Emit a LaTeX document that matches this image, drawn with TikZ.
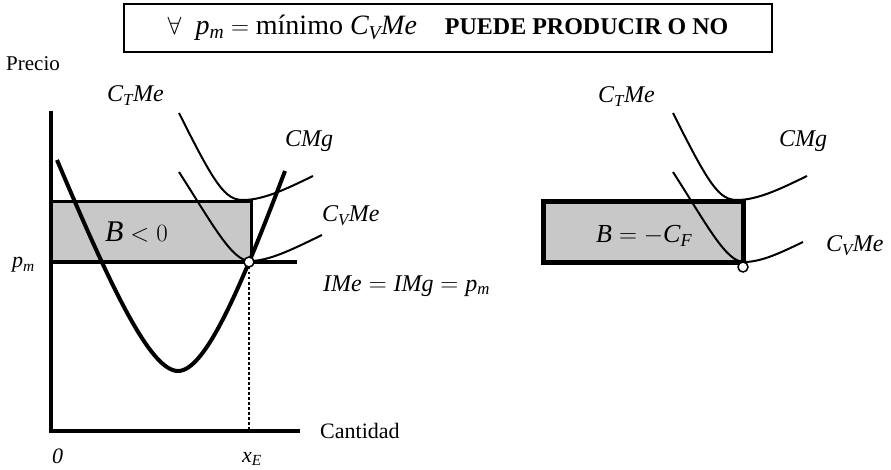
\documentclass[tikz,border=0pt]{standalone}
\usepackage{amsmath}
\usepackage{fontspec}
\setmainfont{Liberation Serif}
\usetikzlibrary{positioning,calc}
\definecolor{BoxGray}{RGB}{200,200,200}
\newcommand{\mi}[1]{\mathit{#1}}

\begin{document}
\begin{tikzpicture}[
    x=1pt, y=-1pt,
    every node/.style={inner sep=0pt, font=\fontsize{24}{28}\selectfont},
    axis/.style={line width=4pt, line join=miter},
    thincurve/.style={line width=2pt},
    thickcurve/.style={line width=4pt},
    eqpoint/.style={circle, draw, line width=1.5pt, fill=white, minimum size=10pt, inner sep=0pt},
    axislabel/.style={anchor=base west, font=\fontsize{21}{25}\selectfont}
  ]
  \useasboundingbox (0,0) rectangle (891,470);

  % title box
  \node[draw, line width=2pt, minimum width=648pt, minimum height=48pt] (title) at (448,28)
    {\fontsize{28}{32}\selectfont $\forall\enspace \mi{p}_{\mi{m}} = \text{mínimo}\ \mi{C}_{\mi{V}}\mi{Me}$\quad{\fontsize{24}{28}\selectfont\bfseries PUEDE PRODUCIR O NO}};

  % left panel: loss area and axes
  \fill[BoxGray] (51,202) rectangle (251,262);
  \draw[line width=3pt] (51,202) -- (251,202) -- (251,262);
  \draw[line width=4pt] (51,262) -- (297,262);
  \draw[axis] (51,111) -- (51,431) -- (300,431);
  \coordinate (eqL) at (249,262);
  \draw[line width=1.5pt, dash pattern=on 2.5pt off 2.5pt] (eqL) -- (eqL |- 0,431);

  \draw[thickcurve] (57,160) .. controls (110,285) and (150,371) .. (178,371) .. controls (205,371) and (240,290) .. (285,171);
  \draw[thincurve] (179,113) .. controls (215,185) and (225,200) .. (243,200) .. controls (265,200) and (290,187) .. (313,176);
  \draw[thincurve] (179,172) .. controls (213,225) and (232,261) .. (250,261) .. controls (270,261) and (295,248) .. (322,235);
  \node[eqpoint] (ptL) at (eqL) {};

  \node[axislabel] (precio) at (6,71) {Precio};
  \node[anchor=base west] (ctmeL) at (107,102) {$\mi{C}_{\mi{T}}\mi{Me}$};
  \node[anchor=base west] (cmgL) at (285,147) {$\mi{CMg}$};
  \node[anchor=base west] (cvmeL) at (322,222) {$\mi{C}_{\mi{V}}\mi{Me}$};
  \node[anchor=base west, font=\fontsize{30}{34}\selectfont] (lossL) at (105,242) {$\mi{B}<0$};
  \node[anchor=base west, font=\fontsize{22}{26}\selectfont] (pm) at (12,268) {$\mi{p}_{\mi{m}}$};
  \node[anchor=base west] (ime) at (323,291) {$\mi{IMe} = \mi{IMg} = \mi{p}_{\mi{m}}$};
  \node[anchor=base west, font=\fontsize{22}{26}\selectfont] (zero) at (52,463) {\itshape 0};
  \node[anchor=base west, font=\fontsize{22}{26}\selectfont] (xe) at (242,462) {$\mi{x}_{\mi{E}}$};
  \node[axislabel, font=\fontsize{22}{26}\selectfont] (cantidad) at (320,438) {Cantidad};

  % right panel: shutdown point
  \fill[BoxGray] (543,202) rectangle (743,263);
  \draw[thincurve] (673,113) .. controls (709,185) and (719,200) .. (737,200) .. controls (759,200) and (784,187) .. (807,176);
  \draw[thincurve] (673,172) .. controls (707,225) and (726,262) .. (744,262) .. controls (762,262) and (782,252) .. (803,242);
  \draw[line width=5pt, line join=miter] (543,202) rectangle (743,263);
  \node[eqpoint] (ptR) at (743,267) {};

  \node[anchor=base west] (ctmeR) at (598,103) {$\mi{C}_{\mi{T}}\mi{Me}$};
  \node[anchor=base west] (cmgR) at (779,147) {$\mi{CMg}$};
  \node[anchor=base west] (cvmeR) at (826,252) {$\mi{C}_{\mi{V}}\mi{Me}$};
  \node[anchor=base west, font=\fontsize{26}{30}\selectfont] (lossR) at (596,243) {$\mi{B}=-\mi{C}_{\mi{F}}$};
\end{tikzpicture}
\end{document}
